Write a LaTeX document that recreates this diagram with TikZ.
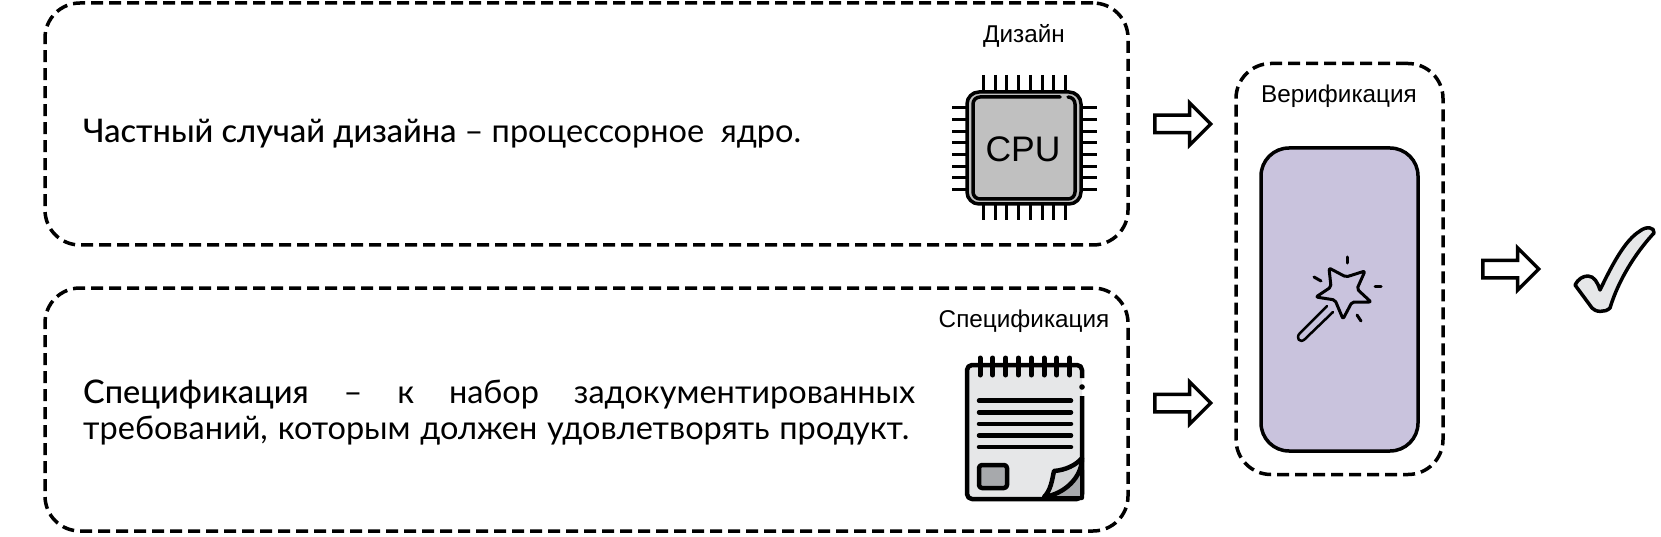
\documentclass[tikz,border=0pt]{standalone}
\usepackage{fontspec}
\setmainfont[BoldFont={Lato Medium}]{Lato}
\newfontfamily\labelfont{Liberation Sans}
\usetikzlibrary{shapes.arrows}

\definecolor{wandfill}{HTML}{C9C3DD}
\definecolor{chipfill}{HTML}{C0C0C0}
\definecolor{paperfill}{HTML}{E6E7E8}
\definecolor{squarefill}{HTML}{A7A9AC}
\definecolor{flapfill}{HTML}{D1D3D4}

\tikzset{
    dashbox/.style={draw, line width=3.5pt, dash pattern=on 12pt off 6pt, rounded corners=35pt, inner sep=0pt},
    blockarrow/.style={draw, line width=3.5pt, single arrow, single arrow head extend=12.5pt, minimum height=56pt, inner xsep=0pt, inner ysep=7pt, anchor=tail},
    maintext/.style={inner sep=0pt, anchor=west, font=\fontsize{32.5}{36}\selectfont},
    labeltext/.style={inner sep=0pt, font=\labelfont\fontsize{24.3}{28}\selectfont},
    icon/.style={line width=3.5pt, line join=round, line cap=round},
}

\begin{document}
\begin{tikzpicture}[x=1pt,y=-1pt]
    \useasboundingbox (0,0) rectangle (1661,537);

    % boxes
    \node[dashbox, minimum width=1083pt, minimum height=242pt] (designbox) at (586.5,124) {};
    \node[dashbox, minimum width=1083pt, minimum height=243pt] (specbox) at (586.5,409.5) {};
    \node[dashbox, minimum width=207pt, minimum height=411pt] (verifbox) at (1339.5,269) {};
    \node[draw, line width=3.5pt, fill=wandfill, rounded corners=28pt, minimum width=157pt, minimum height=303pt] (wandbox) at (1339.5,299.5) {};

    % labels
    \node[labeltext] (designlabel) at (1024,36) {Дизайн};
    \node[labeltext] (speclabel) at (1024,321) {Спецификация};
    \node[labeltext] (veriflabel) at (1339,96) {Верификация};
    \node[maintext] (designtext) at (83,134) {\textbf{Частный случай дизайна} – процессорное\ \ ядро.};
    \node[maintext] (spectextone) at (83,395) {\makebox[832pt][s]{\textbf{Спецификация} – к набор задокументированных}};
    \node[maintext] (spectexttwo) at (83,431) {\makebox[826pt][s]{требований, которым должен удовлетворять продукт.}};

    % arrows
    \node[blockarrow] (arrowdesign) at (1153,124) {};
    \node[blockarrow] (arrowspec) at (1153,403) {};
    \node[blockarrow] (arrowresult) at (1481,269) {};

    % chip
    \foreach \i in {0,...,7} {
        \draw[line width=3pt] (983.5+11.7*\i,75) -- (983.5+11.7*\i,92);
        \draw[line width=3pt] (983.5+11.7*\i,204) -- (983.5+11.7*\i,220);
        \draw[line width=3pt] (952,107.7+11.7*\i) -- (967,107.7+11.7*\i);
        \draw[line width=3pt] (1081,107.7+11.7*\i) -- (1097,107.7+11.7*\i);
    }
    \draw[icon, fill=chipfill, rounded corners=12pt] (967,92) rectangle (1081,204);
    \draw[icon, rounded corners=7pt] (1060,97) -- (973,97) -- (973,199) -- (1075,199) -- (1075,97) -- (1068,97);
    \node[inner sep=0pt, font=\labelfont\fontsize{35.5}{40}\selectfont] (cpulabel) at (1023,149) {CPU};

    % notepad
    \draw[icon, line width=4.5pt, fill=paperfill, line cap=butt, rounded corners=5pt] (1082,396) -- (1082,499) -- (967,499) -- (967,365) -- (1082,365) -- (1082,378);
    \fill[black] (1082,387) circle (2.8pt);
    \foreach \i in {0,...,7}
        \draw[icon, line width=5pt] (980+12.8*\i,358) -- (980+12.8*\i,375);
    \foreach \i in {0,...,4}
        \draw[icon, line width=4.5pt] (979,400.7+11.6*\i) -- (1071,400.7+11.6*\i);
    \draw[icon, line width=4.5pt, fill=squarefill, rounded corners=3pt] (979,465) rectangle (1007,488);
    \draw[icon, line width=4pt, fill=squarefill] (1044,498) -- (1082,470) -- (1082,498) -- cycle;
    \draw[icon, line width=4.5pt, fill=flapfill] (1044,497) .. controls (1051,490) and (1052,480) .. (1054,471) .. controls (1066,470) and (1076,465) .. (1082,458) .. controls (1082,478) and (1064,494) .. (1044,497) -- cycle;

    % wand
    \draw[icon, line width=3pt, rounded corners=2pt] (1329,268) -- (1346,277) -- (1365,271) -- (1357,289) -- (1371,302) -- (1352,302) -- (1343,319) -- (1335,300) -- (1316,297) -- (1331,287) -- cycle;
    \draw[icon, line width=2.5pt] (1327,306) -- (1300,333) .. controls (1295,338) and (1300,344) .. (1305,339) -- (1333,312);
    \draw[icon, line width=3pt] (1347,257) -- (1347,263);
    \draw[icon, line width=3pt] (1314,277) -- (1321,281);
    \draw[icon, line width=3pt] (1375,286) -- (1381,286);
    \draw[icon, line width=3pt] (1357,315) -- (1361,321);

    % check mark
    \draw[icon, fill=paperfill] (1575,285) .. controls (1578,279) and (1583,276) .. (1588,276) .. controls (1594,276) and (1598,283) .. (1600,290) .. controls (1612,265) and (1625,240) .. (1640,231) .. controls (1646,226) and (1655,227) .. (1654,233) .. controls (1640,248) and (1620,275) .. (1610,308) .. controls (1605,313) and (1595,312) .. (1592,308) -- cycle;
\end{tikzpicture}
\end{document}
